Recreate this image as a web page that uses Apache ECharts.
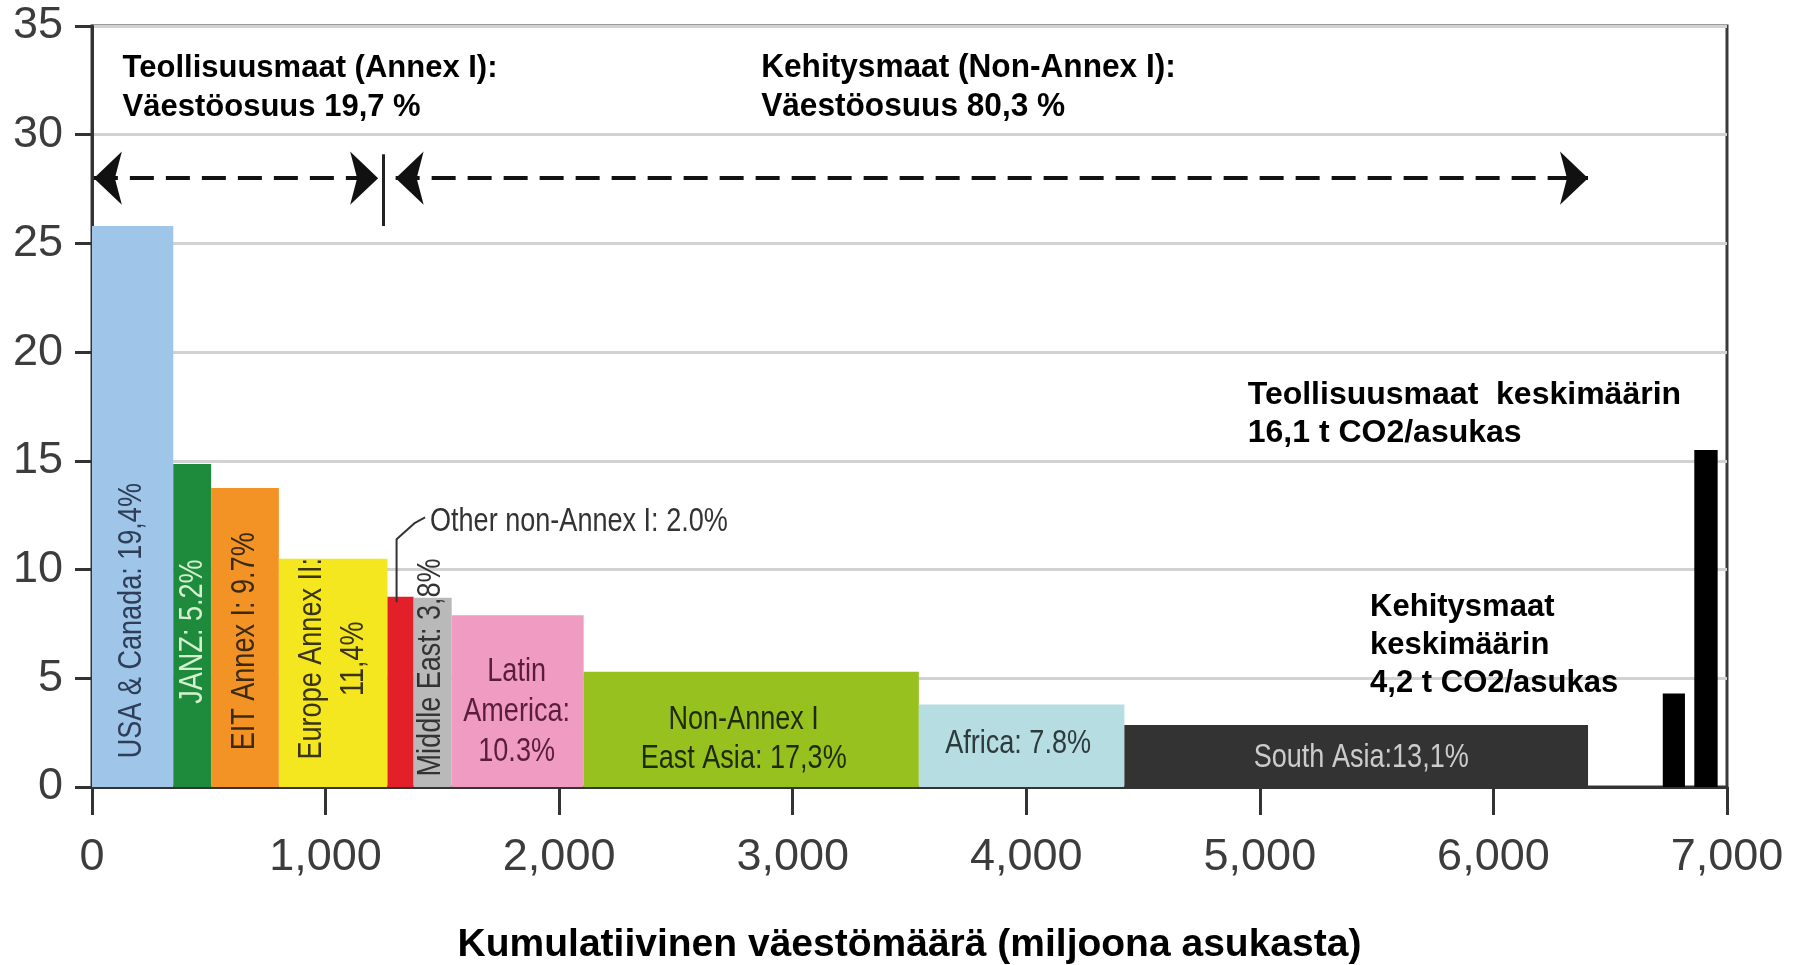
<!DOCTYPE html>
<html><head><meta charset="utf-8">
<script src="https://cdn.jsdelivr.net/npm/echarts@6/dist/echarts.min.js"></script>
<style>html,body{margin:0;padding:0;background:#fff}#c{width:1795px;height:965px}</style>
</head><body><div id="c"></div>
<script>
// ---- data ----
const regions = ['USA & Canada','JANZ','EIT Annex I','Europe Annex II','Other non-Annex I','Middle East','Latin America','Non-Annex I East Asia','Africa','South Asia'];
const population = [348, 162, 290, 465, 112, 163, 565, 1435, 880, 1985]; // million
const perCapita = [25.8, 14.85, 13.75, 10.5, 8.75, 8.7, 7.9, 5.3, 3.8, 2.85]; // t CO2-eq / cap
const barLabelText = ['USA & Canada: 19,4%','JANZ: 5.2%','EIT Annex I: 9.7%','Europe Annex II:\n11,4%','Other non-Annex I: 2.0%','Middle East: 3,8%','Latin\nAmerica:\n10.3%','Non-Annex I\nEast Asia: 17,3%','Africa: 7.8%','South Asia:13,1%'];
const averageNames = ['Kehitysmaat keskimäärin','Teollisuusmaat keskimäärin'];
const averageStart = [6725, 6860];
const averageWidth = [95, 100];
const averageValue = [4.3, 15.5];
const xTicks = [0,1000,2000,3000,4000,5000,6000,7000];
const yTicks = [0,5,10,15,20,25,30,35];
const noteText = ['Teollisuusmaat (Annex I):\nVäestöosuus 19,7 %','Kehitysmaat (Non-Annex I):\nVäestöosuus 80,3 %','Teollisuusmaat  keskimäärin\n16,1 t CO2/asukas','Kehitysmaat\nkeskimäärin\n4,2 t CO2/asukas'];
const xName = 'Kumulatiivinen väestömäärä (miljoona asukasta)';

// ---- styles / layout ----
const regionColors = ['#9fc5e8','#1d8a3c','#f39325','#f4e61f','#e3202a','#b9b9b9','#f09bc2','#96c11f','#b6dde1','#333333'];
const SANS = "'Liberation Sans',Arial,sans-serif";
const barLabelLayout = [
  {x:172, y:7.65, rot:true, color:'#2e3d58'},
  {x:430, y:7.15, rot:true, color:'#d4f0d0'},
  {x:653, y:6.7, rot:true, color:'#3b2a12'},
  {x:1032, y:5.9, rot:true, color:'#3a3410', lh:42},
  {x:1447, y:12.2, rot:false, align:'left', color:'#333333'},
  {x:1452, y:5.5, rot:true, color:'#333333'},
  {x:1818, y:3.45, rot:false, color:'#5a1e3c', lh:40},
  {x:2790, y:2.2, rot:false, color:'#1f2a0a', lh:39},
  {x:3965, y:1.97, rot:false, color:'#2d3b3d'},
  {x:5434, y:1.34, rot:false, color:'#cccccc'}
];
const noteLayout = [
  {x:131, y:32.17, size:31, lh:39, sx:1},
  {x:2865, y:32.17, size:34, lh:39, sx:0.93},
  {x:4948, y:17.16, size:32, lh:38, sx:1},
  {x:5472, y:6.5, size:31, lh:38, sx:1}
];
const leaderPts = [[1304,8.5],[1304,11.4],[1383,12.15],[1426,12.4]];
const arrowY = 28.0;
const arrowEnds = [[8, 1225], [1300, 6405]];
const dividerX = 1245, dividerTop = 29.1, dividerBottom = 25.8;

// ---- build ----
const starts = []; let acc = 0;
population.forEach(p => { starts.push(acc); acc += p; });
const barData = regions.map((r,i) => ({name:r, value:[starts[i], starts[i]+population[i], perCapita[i]], itemStyle:{color:regionColors[i]}}));
averageNames.forEach((n,i) => barData.push({name:n, value:[averageStart[i], averageStart[i]+averageWidth[i], averageValue[i]], itemStyle:{color:'#000000'}}));

const textItems = [];
barLabelText.forEach((t,i) => { const L = barLabelLayout[i]; textItems.push({text:t, x:L.x, y:L.y, rot:L.rot, color:L.color, align:L.align||'center', size:33, weight:'normal', sx:0.82, lh:L.lh||36}); });
noteText.forEach((t,i) => { const L = noteLayout[i]; textItems.push({text:t, x:L.x, y:L.y, rot:false, color:'#000', align:'left', size:L.size, weight:'bold', sx:L.sx, lh:L.lh}); });

const chart = echarts.init(document.getElementById('c'));
chart.setOption({
  animation:false,
  backgroundColor:'#ffffff',
  grid:{left:92, right:68, top:26, bottom:178, containLabel:false, outerBoundsMode:'none', show:true, borderColor:'#3a3a3a', borderWidth:3, backgroundColor:'transparent'},
  xAxis:{type:'value', min:xTicks[0], max:xTicks[xTicks.length-1], interval:1000,
    axisLine:{show:true, lineStyle:{color:'#333', width:3}},
    axisTick:{show:true, inside:false, length:28, lineStyle:{color:'#333', width:3}},
    splitLine:{show:false},
    axisLabel:{margin:48, fontSize:45, color:'#3c3c3c', fontFamily:SANS, formatter:v => v.toLocaleString('en-US')},
    name:xName, nameLocation:'middle', nameGap:139,
    nameTextStyle:{fontSize:39, fontWeight:'bold', color:'#000', fontFamily:SANS}
  },
  yAxis:{type:'value', min:yTicks[0], max:yTicks[yTicks.length-1], interval:5,
    axisLine:{show:true, lineStyle:{color:'#333', width:3}},
    axisTick:{show:true, inside:false, length:17, lineStyle:{color:'#333', width:3}},
    splitLine:{show:true, lineStyle:{color:'#d2d2d2', width:3}},
    axisLabel:{margin:29, fontSize:45, color:'#3c3c3c', fontFamily:SANS, padding:[12,0,0,0]}
  },
  series:[
    {type:'custom', name:'bars', data:barData, encode:{x:[0,1], y:2},
     renderItem:(params, api) => {
       const p0 = api.coord([api.value(0), api.value(2)]);
       const p1 = api.coord([api.value(1), 0]);
       return {type:'rect', shape:{x:p0[0], y:p0[1], width:p1[0]-p0[0], height:p1[1]-p0[1]}, style:{fill:api.visual('color')}};
     }, z:2},
    {type:'line', name:'leader', data:leaderPts, showSymbol:false, symbol:'none', lineStyle:{color:'#333', width:2}, z:4, silent:true,
     markLine:{silent:true, symbol:['arrow','arrow'], symbolSize:[40,28], label:{show:false},
       lineStyle:{color:'#111', width:4, type:[24,12]},
       data:[
         [{coord:[arrowEnds[0][0], arrowY]},{coord:[arrowEnds[0][1], arrowY]}],
         [{coord:[arrowEnds[1][0], arrowY]},{coord:[arrowEnds[1][1], arrowY]}],
         [{coord:[dividerX, dividerTop], symbol:'none', lineStyle:{type:'solid', width:3, color:'#222'}},{coord:[dividerX, dividerBottom], symbol:'none'}]
       ]}},
    {type:'custom', name:'texts', data:textItems.map(t => [t.x, t.y]), clip:false, z:5, silent:true,
     renderItem:(params, api) => {
       const t = textItems[params.dataIndex];
       const p = api.coord([t.x, t.y]);
       return {type:'text', x:p[0], y:p[1], rotation:t.rot ? Math.PI/2 : 0, scaleX:t.sx, scaleY:1,
         style:{text:t.text, fill:t.color, fontSize:t.size, fontWeight:t.weight, fontFamily:SANS, align:t.align, verticalAlign:'middle', lineHeight:t.lh}};
     }}
  ]
});
</script></body></html>
